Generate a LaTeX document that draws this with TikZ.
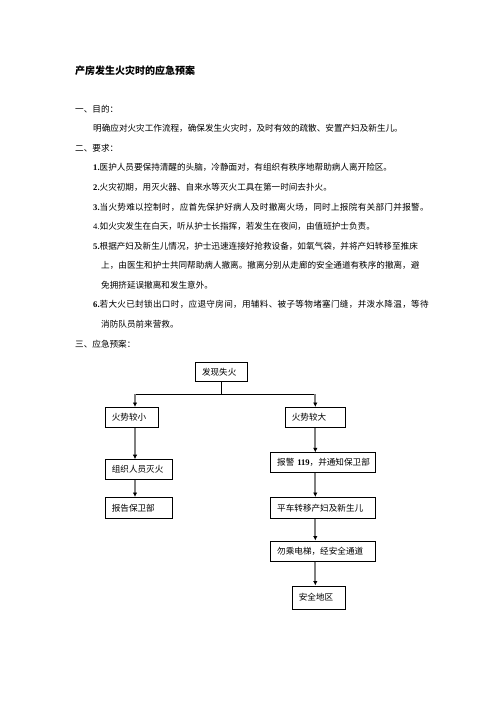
\documentclass[tikz,border=0pt]{standalone}
\usepackage{fontspec}
\setmainfont{Liberation Serif}
\newfontfamily\cjk{Noto Sans CJK SC}
\usetikzlibrary{arrows.meta}
\newcommand\zh[1]{{\cjk #1}}
\newcommand\zhs[1]{{\cjk\addfontfeature{LetterSpace=3.5}#1}}
\definecolor{linegray}{HTML}{7F7F7F}
\tikzset{
  txt/.style={anchor=west, inner sep=0pt, font=\fontsize{8.6}{10}\selectfont},
  ttl/.style={anchor=west, inner sep=0pt, font=\fontsize{10}{12}\selectfont\cjk\bfseries},
  fbox/.style={draw=black, line width=1pt, inner xsep=6.5pt, inner ysep=0pt, align=left,
    font=\fontsize{8.6}{10}\selectfont},
  thinline/.style={draw=black, line width=1pt},
  arr/.style={draw=linegray, line width=2pt, -{Latex[length=4.5pt,width=4.5pt,color=black]}}
}
\begin{document}
\begin{tikzpicture}[x=1pt,y=-1pt]
\useasboundingbox (0,0) rectangle (496,702);
\fill[white] (0,0) rectangle (496,702);

\node[ttl] (title) at (75,70.7) {产房发生火灾时的应急预案};

\node[txt] (s1) at (75,109) {\zh{一、目的：}};
\node[txt] (p1) at (93,128.6) {\zh{明确应对火灾工作流程，确保发生火灾时，及时有效的疏散、安置产妇及新生儿。}};
\node[txt] (s2) at (75,148.2) {\zh{二、要求：}};
\node[txt] (r1) at (93,167.7) {\textbf{1.}\zh{医护人员要保持清醒的头脑，冷静面对，有组织有秩序地帮助病人离开险区。}};
\node[txt] (r2) at (93,187.3) {\textbf{2.}\zh{火灾初期，用灭火器、自来水等灭火工具在第一时间去扑火。}};
\node[txt] (r3) at (93,206.9) {\textbf{3.}\zhs{当火势难以控制时，应首先保护好病人及时撤离火场，同时上报院有关部门并报警。}};
\node[txt] (r4) at (93,226.5) {4.\zh{如火灾发生在白天，听从护士长指挥，若发生在夜间，由值班护士负责。}};
\node[txt] (r5) at (93,246) {\textbf{5.}\zh{根据产妇及新生儿情况，护士迅速连接好抢救设备，如氧气袋，并将产妇转移至推床}};
\node[txt] (r5b) at (101,265.6) {\zh{上，由医生和护士共同帮助病人撤离。撤离分别从走廊的安全通道有秩序的撤离，避}};
\node[txt] (r5c) at (101,285.2) {\zh{免拥挤延误撤离和发生意外。}};
\node[txt] (r6) at (93,304.8) {\textbf{6.}\zhs{若大火已封锁出口时，应退守房间，用辅料、被子等物堵塞门缝，并泼水降温，等待}};
\node[txt] (r6b) at (101,324.4) {\zh{消防队员前来营救。}};
\node[txt] (s3) at (75,344) {\zh{三、应急预案：}};

% flowchart boxes
\node[fbox, minimum width=52pt, minimum height=19.4pt, text width=39pt] (A) at (221.5,372) {\mbox{\zh{发现失火}}};
\node[fbox, minimum width=52.7pt, minimum height=19.8pt, text width=39.7pt] (B) at (131.65,417.4) {\mbox{\zh{火势较小}}};
\node[fbox, minimum width=60pt, minimum height=19.8pt, text width=47pt] (C) at (315.3,417.4) {\mbox{\zh{火势较大}}};
\node[fbox, minimum width=67.2pt, minimum height=19.6pt, text width=54.2pt] (D) at (138.9,469.5) {\mbox{\zh{组织人员灭火}}};
\node[fbox, minimum width=67.2pt, minimum height=20.8pt, text width=54.2pt] (E) at (138.9,507.9) {\mbox{\zh{报告保卫部}}};
\node[fbox, minimum width=104.8pt, minimum height=19.4pt, text width=91.8pt] (F) at (323.1,462.6) {\mbox{\zh{报警} \textbf{119}\zh{，并通知保卫部}}};
\node[fbox, minimum width=104.8pt, minimum height=20.8pt, text width=91.8pt] (G) at (323.1,507.9) {\mbox{\zh{平车转移产妇及新生儿}}};
\node[fbox, minimum width=104.8pt, minimum height=20pt, text width=91.8pt] (H) at (323.1,551) {\mbox{\zh{勿乘电梯，经安全通道}}};
\node[fbox, minimum width=52.7pt, minimum height=23.3pt, text width=39.7pt] (I) at (318.65,597.65) {\mbox{\zh{安全地区}}};

% connectors
\coordinate (lx) at (135,394);
\coordinate (rx) at (315.3,394);
\draw[thinline] (A.south) -- (A.south |- lx);
\draw[thinline] (lx) -- (rx);
\draw[arr] (lx) -- (B.north -| lx);
\draw[arr] (rx) -- (C.north -| rx);
\draw[arr] (B.south -| lx) -- (D.north -| lx);
\draw[arr] (D.south -| lx) -- (E.north -| lx);
\draw[arr] (C.south -| rx) -- (F.north -| rx);
\draw[arr] (F.south -| rx) -- (G.north -| rx);
\draw[arr] (G.south -| rx) -- (H.north -| rx);
\draw[arr] (H.south -| rx) -- (I.north -| rx);
\end{tikzpicture}
\end{document}
